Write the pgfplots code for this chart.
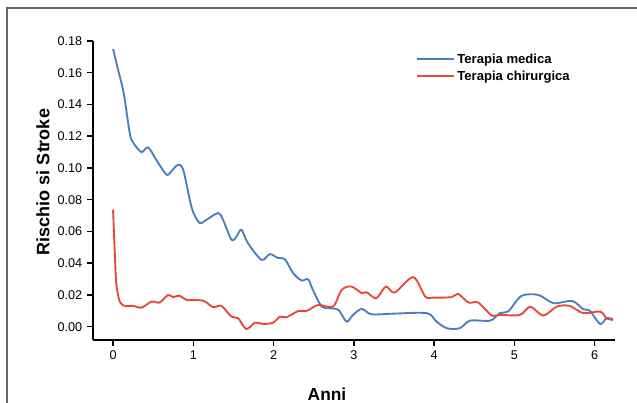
\documentclass[border=0pt]{standalone}
\usepackage{pgfplots}
\pgfplotsset{compat=1.18}
\usepackage{fontspec}
\setmainfont{Liberation Sans}
\definecolor{cblue}{RGB}{74,126,190}
\definecolor{cred}{RGB}{232,72,58}
\begin{document}
\begin{tikzpicture}
\path[use as bounding box] (-69.75pt,-47.25pt) rectangle (408pt,255pt);
\draw[gray!80!black, line width=1.1pt] (-64.5pt,-60pt) -- (-64.5pt,249pt) -- (420pt,249pt);
\begin{axis}[
  at={(0,0)}, anchor=south west,
  scale only axis, width=391.5pt, height=224.25pt,
  xmin=-0.25, xmax=6.255, ymin=-0.0084, ymax=0.18,
  axis lines=left, axis line style={-, line width=1.1pt, black},
  xtick={0,1,2,3,4,5,6},
  ytick={0,0.02,0.04,0.06,0.08,0.1,0.12,0.14,0.16,0.18},
  yticklabel style={/pgf/number format/.cd, fixed, fixed zerofill, precision=2},
  /pgf/number format/assume math mode=true,
  tick style={black, line width=1.1pt},
  tick align=outside, major tick length=4.5pt,
  ticklabel style={font=\fontsize{9.5}{11}\selectfont},
  legend style={draw=none, fill=none, at={(239pt,218.5pt)}, anchor=north west,
    font=\fontsize{9.8}{11}\selectfont\bfseries, row sep=1.2pt,
    nodes={inner sep=1.5pt}},
  legend cell align=left,
  legend image code/.code={\draw[#1, line width=1.6pt] (0pt,0pt) -- (28pt,0pt);},
  clip=false,
]
\addplot[cblue, line width=1.4pt, smooth, tension=0.5] coordinates {
(0,0.175) (0.062,0.162) (0.133,0.147) (0.208,0.122) (0.25,0.116) (0.354,0.110)
(0.437,0.113) (0.54,0.105) (0.666,0.0958) (0.728,0.098) (0.81,0.102) (0.873,0.099)
(0.956,0.080) (1.0,0.072) (1.08,0.0653) (1.165,0.0674) (1.31,0.0716) (1.37,0.0674)
(1.476,0.0548) (1.54,0.0569) (1.60,0.0611) (1.68,0.0527) (1.85,0.0421) (1.954,0.0457)
(2.057,0.0432) (2.14,0.0426) (2.244,0.0337) (2.35,0.0291) (2.43,0.0299) (2.49,0.0232)
(2.6,0.0126) (2.70,0.0116) (2.81,0.0105) (2.91,0.0032) (2.99,0.0074) (3.10,0.0112)
(3.22,0.0078) (3.49,0.0082) (3.91,0.0085) (4.03,0.0032) (4.16,-0.001) (4.32,-0.001)
(4.45,0.0038) (4.70,0.0038) (4.82,0.0085) (4.93,0.0099) (5.09,0.0194) (5.30,0.020)
(5.49,0.0148) (5.72,0.0162) (5.86,0.011) (5.94,0.0101) (6.07,0.0017) (6.15,0.0053)
(6.23,0.0047)
};
\addlegendentry{Terapia medica}
\addplot[cred, line width=1.4pt, smooth, tension=0.5] coordinates {
(0,0.0737) (0.02,0.0485) (0.04,0.0274) (0.083,0.0158) (0.146,0.0131) (0.25,0.0131)
(0.354,0.012) (0.48,0.0158) (0.58,0.0152) (0.686,0.020) (0.75,0.0186) (0.83,0.0196)
(0.915,0.0169) (1.12,0.0164) (1.247,0.0123) (1.35,0.0131) (1.476,0.0063) (1.56,0.0053)
(1.66,-0.0015) (1.77,0.0025) (1.87,0.0017) (1.995,0.0025) (2.08,0.0063) (2.16,0.0059)
(2.31,0.0099) (2.41,0.0099) (2.56,0.0137) (2.74,0.0126) (2.85,0.0232) (2.97,0.0253)
(3.10,0.0211) (3.16,0.0217) (3.28,0.0179) (3.40,0.0253) (3.51,0.0215) (3.74,0.0312)
(3.89,0.019) (3.99,0.0183) (4.22,0.0186) (4.30,0.0207) (4.43,0.0152) (4.55,0.0152)
(4.72,0.007) (4.82,0.0074) (5.07,0.0074) (5.20,0.0126) (5.36,0.007) (5.53,0.0126)
(5.69,0.0131) (5.86,0.0085) (6.07,0.0095) (6.15,0.0053) (6.23,0.0042)
};
\addlegendentry{Terapia chirurgica}
\end{axis}
\node[rotate=90, font=\fontsize{13.5}{15}\selectfont\bfseries] at (-37.5pt,118.5pt) {Rischio si Stroke};
\node[anchor=base, font=\fontsize{13}{15}\selectfont\bfseries] at (175.5pt,-45.75pt) {Anni};
\end{tikzpicture}
\end{document}
